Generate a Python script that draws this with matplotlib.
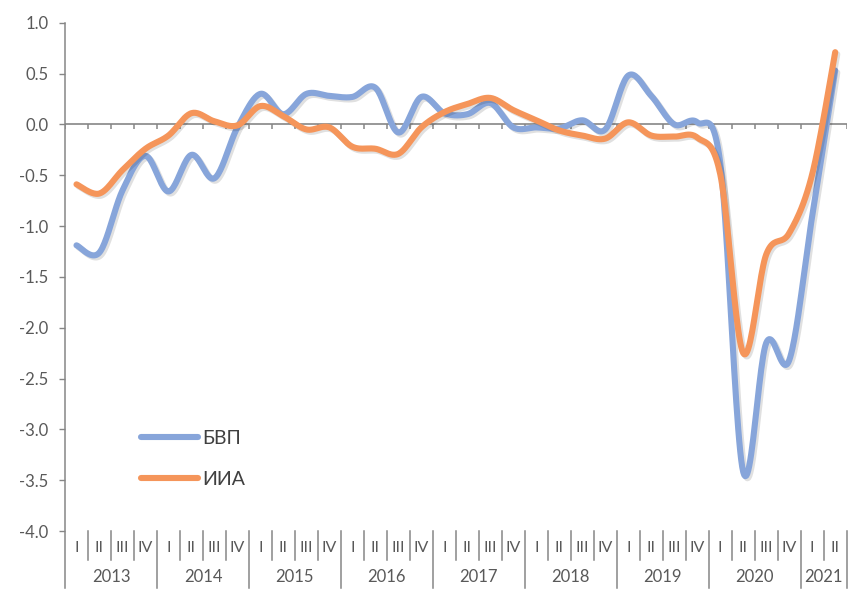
import numpy as np
import matplotlib
matplotlib.use('Agg')
import matplotlib.pyplot as plt
import matplotlib.patheffects as pe

plt.rcParams['font.family'] = ['Lato', 'Noto Sans', 'DejaVu Sans']

# quarters 2013 I ... 2021 II
quarters = ['I', 'II', 'III', 'IV'] * 8 + ['I', 'II']
years = ['2013', '2014', '2015', '2016', '2017', '2018', '2019', '2020', '2021']
bvp = [-1.19, -1.26, -0.65, -0.31, -0.66, -0.30, -0.53, -0.03,
       0.30, 0.10, 0.30, 0.28, 0.27, 0.36, -0.08, 0.27,
       0.11, 0.10, 0.21, -0.03, -0.03, -0.04, 0.04, -0.05,
       0.48, 0.28, 0.00, 0.02, -0.38, -3.42, -2.15, -2.32,
       -0.90, 0.53]
iia = [-0.59, -0.68, -0.45, -0.24, -0.11, 0.11, 0.03, -0.01,
       0.18, 0.08, -0.05, -0.03, -0.22, -0.24, -0.29, -0.03,
       0.12, 0.20, 0.26, 0.14, 0.04, -0.06, -0.11, -0.14,
       0.02, -0.11, -0.12, -0.13, -0.49, -2.25, -1.28, -1.07,
       -0.49, 0.71]


# excel-style smoothed line (bezier through the points)
def smooth(vals, n=24):
    p = np.column_stack([np.arange(len(vals), dtype=float), vals])
    p = np.vstack([p[0], p, p[-1]])
    t = np.linspace(0, 1, n)[:, None]
    out = []
    for i in range(1, len(p) - 2):
        p0, p1, p2, p3 = p[i - 1], p[i], p[i + 1], p[i + 2]
        c1 = p1 + (p2 - p0) / 6
        c2 = p2 - (p3 - p1) / 6
        seg = (1 - t) ** 3 * p1 + 3 * (1 - t) ** 2 * t * c1 + 3 * (1 - t) * t ** 2 * c2 + t ** 3 * p2
        out.append(seg if i == 1 else seg[1:])
    return np.vstack(out)


fig = plt.figure(figsize=(8.49, 6.10), dpi=100)
ax = fig.add_axes([65 / 849, 1 - 531 / 610, 781.7 / 849, 508.3 / 610])

grey = '#868686'
txt = '#595959'
shadow = [pe.SimpleLineShadow(offset=(1.5, -1.5), alpha=0.12, rho=0.3), pe.Normal()]

s = smooth(bvp)
ax.plot(s[:, 0], s[:, 1], color='#87A5DA', lw=4.4, solid_capstyle='round',
        label='БВП', path_effects=shadow, zorder=3)
s = smooth(iia)
ax.plot(s[:, 0], s[:, 1], color='#F5955A', lw=4.4, solid_capstyle='round',
        label='ИИА', path_effects=shadow, zorder=4)

n = len(quarters)
ax.set_xlim(-0.5, n - 0.5)
ax.set_ylim(-4, 1)
ax.set_yticks(np.arange(-4, 1.01, 0.5))
ax.set_yticklabels(['%.1f' % v for v in np.arange(-4, 1.01, 0.5)])
ax.tick_params(axis='y', length=4, width=1, color=grey, labelcolor=txt, labelsize=12, pad=8)
ax.set_xticks([])
for sp in ['top', 'right', 'bottom', 'left']:
    ax.spines[sp].set_visible(False)

# horizontal axis at zero with small ticks
ax.axhline(0, color=grey, lw=1.2, zorder=2)
bounds = np.arange(n + 1) - 0.5
ax.vlines(bounds, -0.05, 0, color=grey, lw=1.1, zorder=2)

# left axis line running down through the label area
tr = ax.get_xaxis_transform()
ax.plot([-0.5, -0.5], [1, -0.1115], color=grey, lw=1.1, transform=tr, clip_on=False)

# category labels: quarters and years
for i, q in enumerate(quarters):
    ax.text(i, -0.0334, q, transform=tr, ha='center', va='center', color=txt, fontsize=11.5)
for b in bounds[1:]:
    if (b + 0.5) % 4 == 0 or b == bounds[-1]:
        ax.plot([b, b], [0, -0.1115], color=grey, lw=1.1, transform=tr, clip_on=False)
    else:
        ax.plot([b, b], [0, -0.057], color=grey, lw=1.1, transform=tr, clip_on=False)
for k, yr in enumerate(years):
    start = 4 * k
    end = min(start + 4, n)
    ax.text((start + end - 1) / 2, -0.0899, yr, transform=tr, ha='center', va='center',
            color=txt, fontsize=12)

leg = ax.legend(loc='center left', bbox_to_anchor=(0.0968, 0.1423), frameon=False,
                fontsize=14, handlelength=2.95, handletextpad=0.2, labelspacing=1.25,
                borderpad=0, borderaxespad=0)
for t in leg.get_texts():
    t.set_color('#404040')
for h in leg.get_lines():
    h.set_linewidth(4.4)
    h.set_path_effects([])

plt.savefig('out.png', dpi=100)
